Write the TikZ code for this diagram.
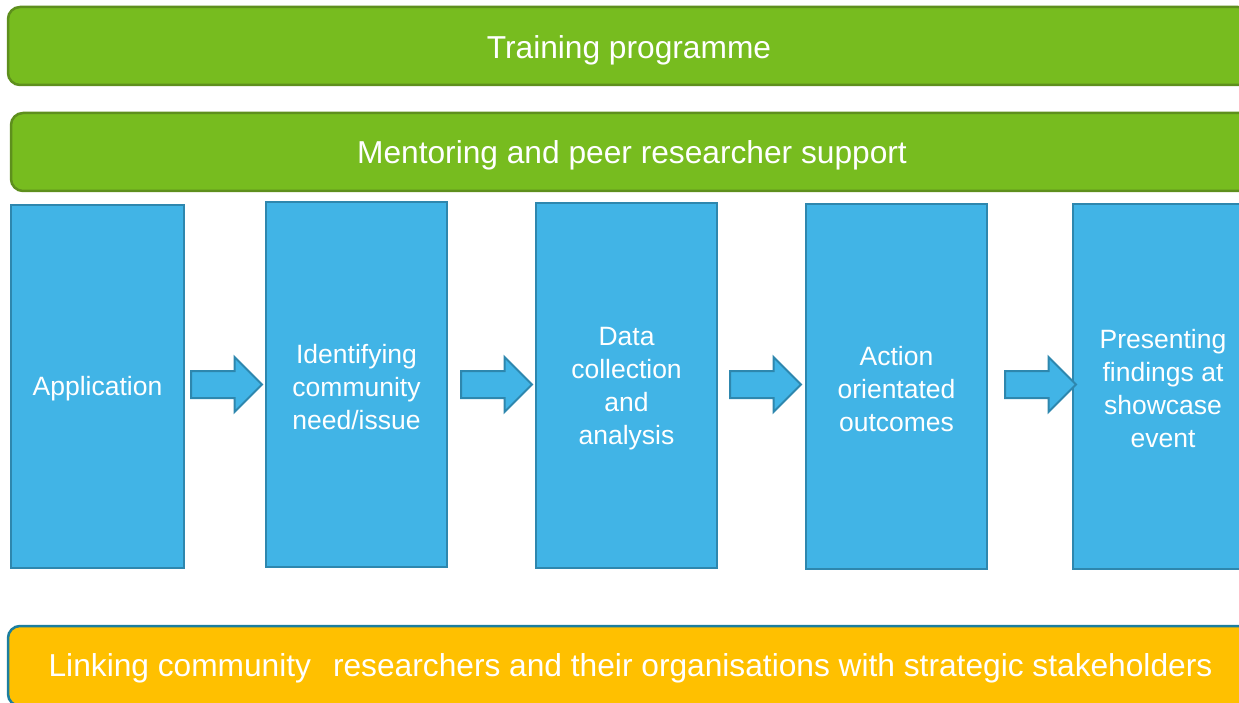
\documentclass[tikz,border=0pt]{standalone}
\usepackage{fontspec}
\setmainfont{Liberation Sans}
\usetikzlibrary{shapes.arrows}
\definecolor{gfill}{RGB}{119,188,31}
\definecolor{gline}{RGB}{94,143,29}
\definecolor{bfill}{RGB}{65,180,230}
\definecolor{bline}{RGB}{46,135,174}
\definecolor{ofill}{RGB}{255,192,0}
\definecolor{oline}{RGB}{28,126,158}
\tikzset{
  bar/.style={draw=gline, fill=gfill, line width=2.5pt, rounded corners=12pt, inner sep=0pt},
  obar/.style={bar, draw=oline, fill=ofill},
  bartext/.style={text=white, inner sep=0pt, anchor=base, font=\fontsize{31.7}{36}\selectfont},
  stagebox/.style={draw=bline, fill=bfill, line width=2.5pt, inner sep=0pt},
  stagetext/.style={text=white, align=center, inner sep=0pt, font=\fontsize{26.5}{33}\selectfont},
  blockarrow/.style={single arrow, draw=bline, fill=bfill, line width=2pt,
    minimum height=71pt, inner xsep=0pt, inner ysep=12.5pt,
    single arrow head extend=14pt, single arrow head indent=0pt, anchor=tail}
}
\begin{document}
\begin{tikzpicture}[x=1pt,y=-1pt]
\useasboundingbox (0,0) rectangle (1239,703);
\clip (0,0) rectangle (1239,703);
\node[bar, minimum width=1242pt, minimum height=78pt] (train) at (629,46) {};
\node[bartext] (traint) at (629,58.3) {Training programme};
\node[bar, minimum width=1242pt, minimum height=78pt] (mentor) at (632,152) {};
\node[bartext] (mentort) at (632,163.5) {Mentoring and peer researcher support};
\node[obar, minimum width=1244pt, minimum height=80pt] (link) at (630,666) {};
\node[bartext] (linkt) at (630.5,676.7) {Linking community\hspace{22pt}researchers and their organisations with strategic stakeholders};

\node[stagebox, minimum width=173pt, minimum height=363pt] (s1) at (97.5,386.5) {};
\node[stagebox, minimum width=181pt, minimum height=365pt] (s2) at (356.5,384.5) {};
\node[stagebox, minimum width=181pt, minimum height=365pt] (s3) at (626.5,385.5) {};
\node[stagebox, minimum width=181pt, minimum height=365pt] (s4) at (896.5,386.5) {};
\node[stagebox, minimum width=180pt, minimum height=365pt] (s5) at (1163,386.5) {};

\node[stagetext] (t1) at ([yshift=-2.5pt]s1.center) {Application};
\node[stagetext] (t2) at ([yshift=-2.5pt]s2.center) {Identifying\\community\\need/issue};
\node[stagetext] (t3) at ([yshift=-3pt]s3.center) {Data\\collection\\and\\analysis};
\node[stagetext] (t4) at ([yshift=-2.5pt]s4.center) {Action\\orientated\\outcomes};
\node[stagetext] (t5) at ([yshift=-2pt]s5.center) {Presenting\\findings at\\showcase\\event};

\node[blockarrow] (a1) at (190,384.5) {};
\node[blockarrow] (a2) at (460,384.5) {};
\node[blockarrow] (a3) at (729,384.5) {};
\node[blockarrow] (a4) at (1004,384.5) {};
\end{tikzpicture}
\end{document}
